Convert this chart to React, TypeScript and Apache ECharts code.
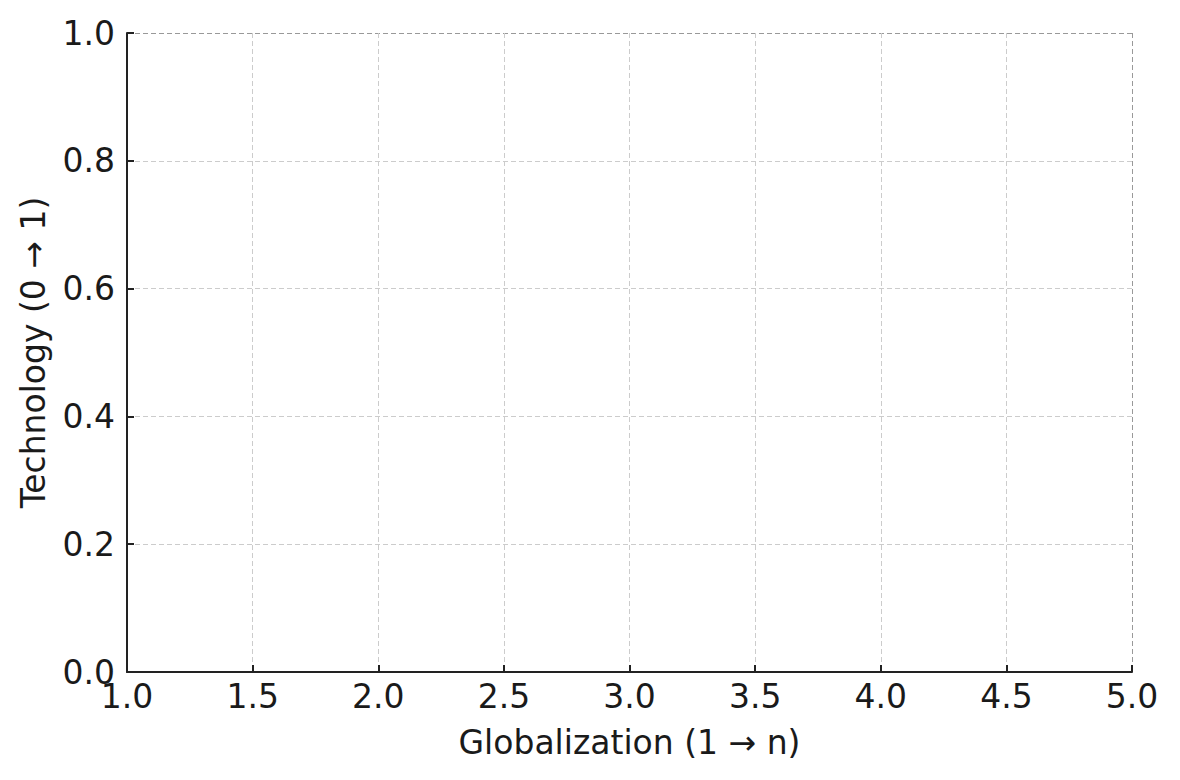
import React, { useEffect, useRef } from "react";
import * as echarts from "echarts";

const xTicks = [1.0, 1.5, 2.0, 2.5, 3.0, 3.5, 4.0, 4.5, 5.0];
const yTicks = [0.0, 0.2, 0.4, 0.6, 0.8, 1.0];
const xName = "Globalization (1 → n)";
const yName = "Technology (0 → 1)";
const seriesData: number[][] = [];

export default function App() {
  const ref = useRef<HTMLDivElement>(null);
  useEffect(() => {
    if (!ref.current) return;
    const chart = echarts.init(ref.current, null, { renderer: "svg" });
    const font = "DejaVu Sans";
    const textColor = "#1a1a1a";
    const xColors = xTicks.map((_, i) => (i === xTicks.length - 1 ? "#999" : "#cccccc"));
    const yColors = yTicks.map((_, i) => (i === yTicks.length - 1 ? "#999" : "#cccccc"));
    chart.setOption({
      animation: false,
      backgroundColor: "#fff",
      grid: { left: 127, right: 48, top: 33, bottom: 108, containLabel: false },
      xAxis: {
        type: "value",
        min: xTicks[0],
        max: xTicks[xTicks.length - 1],
        interval: 0.5,
        name: xName,
        nameLocation: "middle",
        nameGap: 54,
        nameTextStyle: { fontFamily: font, fontSize: 33, color: textColor },
        axisLine: { show: true, onZero: false, lineStyle: { color: "#222", width: 2 } },
        axisTick: { show: true, inside: true, length: 7, lineStyle: { color: "#222", width: 2 } },
        axisLabel: {
          fontFamily: font,
          fontSize: 33,
          color: textColor,
          margin: 8,
          formatter: (v: number) => v.toFixed(1),
        },
        splitLine: { show: true, lineStyle: { color: xColors, type: [5, 3], width: 1 } },
      },
      yAxis: {
        type: "value",
        min: yTicks[0],
        max: yTicks[yTicks.length - 1],
        interval: 0.2,
        name: yName,
        nameLocation: "middle",
        nameGap: 77,
        nameRotate: 90,
        nameTextStyle: { fontFamily: font, fontSize: 33, color: textColor },
        axisLine: { show: true, onZero: false, lineStyle: { color: "#222", width: 2 } },
        axisTick: { show: true, inside: true, length: 7, lineStyle: { color: "#222", width: 2 } },
        axisLabel: {
          fontFamily: font,
          fontSize: 33,
          color: textColor,
          margin: 12,
          formatter: (v: number) => v.toFixed(1),
        },
        splitLine: { show: true, lineStyle: { color: yColors, type: [5, 3], width: 1 } },
      },
      series: [{ type: "scatter", data: seriesData }],
    });
    return () => chart.dispose();
  }, []);
  return (
    <div
      ref={ref}
      style={{ position: "fixed", left: 0, top: 0, width: 1180, height: 780, background: "#fff" }}
    />
  );
}
